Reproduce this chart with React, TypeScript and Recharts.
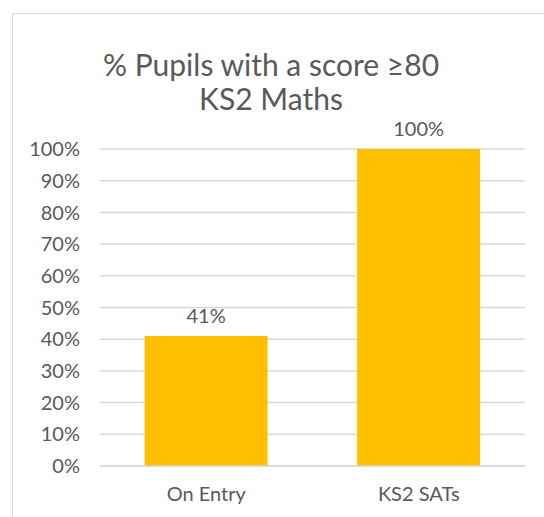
import { BarChart, Bar, XAxis, YAxis, CartesianGrid, LabelList } from "recharts";

const categories = ["On Entry", "KS2 SATs"];
const pupilsPct = [41, 100];
const yTicks = [0, 10, 20, 30, 40, 50, 60, 70, 80, 90, 100];

const data = categories.map((c, i) => ({ name: c, value: pupilsPct[i] }));

const FONT = "Lato, 'Open Sans', sans-serif";
const TEXT = "#595959";

export default function App() {
  return (
    <div
      style={{
        position: "absolute",
        left: 0,
        top: 0,
        width: 544,
        height: 517,
        background: "#fff",
        overflow: "hidden",
        fontFamily: FONT,
      }}
    >
      {/* chart frame: only top and left edges show in the crop */}
      <div
        style={{
          position: "absolute",
          left: 12,
          top: 13,
          width: 560,
          height: 560,
          border: "1.5px solid #d9d9d9",
          boxSizing: "border-box",
        }}
      />
      <div
        style={{
          position: "absolute",
          left: 12,
          width: 518,
          top: 47,
          textAlign: "center",
          color: TEXT,
          fontSize: 30,
          lineHeight: "34px",
        }}
      >
        % Pupils with a score ≥80
        <br />
        KS2 Maths
      </div>
      <BarChart
        width={544}
        height={517}
        data={data}
        margin={{ top: 149, right: 19, bottom: 0, left: 0 }}
        barCategoryGap="21%"
        style={{ position: "absolute", left: 0, top: 0 }}
      >
        <CartesianGrid vertical={false} stroke="#d9d9d9" strokeWidth={1.5} />
        <XAxis
          dataKey="name"
          height={51}
          tickLine={false}
          tickSize={0}
          tickMargin={21}
          axisLine={{ stroke: "#d9d9d9", strokeWidth: 1.5 }}
          tick={{ fill: TEXT, fontSize: 20, fontFamily: FONT }}
        />
        <YAxis
          width={100}
          domain={[0, 100]}
          ticks={yTicks}
          interval={0}
          tickFormatter={(v) => `${v}%`}
          tickLine={false}
          axisLine={false}
          tickSize={0}
          tickMargin={20}
          tick={{ fill: TEXT, fontSize: 20, fontFamily: FONT }}
        />
        <Bar dataKey="value" fill="#FFC000" isAnimationActive={false}>
          <LabelList
            dataKey="value"
            position="top"
            offset={13}
            formatter={(v: number) => `${v}%`}
            style={{ fill: TEXT, fontSize: 20, fontFamily: FONT }}
          />
        </Bar>
      </BarChart>
    </div>
  );
}
